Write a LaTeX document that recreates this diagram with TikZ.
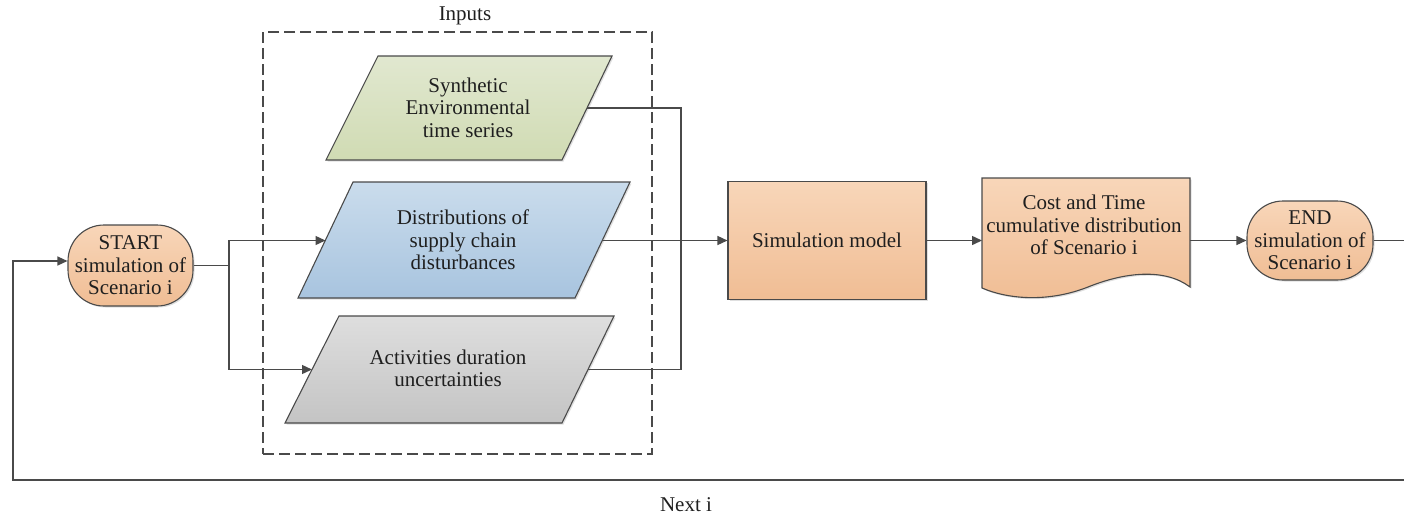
\documentclass[tikz,border=0pt]{standalone}
\usepackage{fontspec}
\setmainfont{Liberation Serif}
\usetikzlibrary{shadows,arrows.meta}
\definecolor{lineC}{HTML}{4A4A4A}
\definecolor{orT}{HTML}{F8D6B9}
\definecolor{orB}{HTML}{F0BD94}
\definecolor{grT}{HTML}{E1E8D0}
\definecolor{grB}{HTML}{D0DBB3}
\definecolor{blT}{HTML}{CADCEC}
\definecolor{blB}{HTML}{A8C4DF}
\definecolor{gyT}{HTML}{DEDEDE}
\definecolor{gyB}{HTML}{C4C4C4}
\begin{document}
\begin{tikzpicture}[x=1pt,y=-1pt,
  txt/.style={font=\fontsize{21}{22.5}\selectfont, align=center, text=black!88},
  ln/.style={draw=lineC, line width=1.4pt},
  arr/.style={ln, -{Triangle[length=10pt,width=9pt]}},
  shp/.style={draw=lineC, line width=1.1pt, drop shadow={shadow xshift=1.5pt,shadow yshift=-1.5pt,opacity=0.25}},
  term/.style={shp, txt, rounded corners=36pt, inner sep=0pt, top color=orT, bottom color=orB},
  procbox/.style={shp, txt, inner sep=0pt, top color=orT, bottom color=orB},
]
\useasboundingbox (0,0) rectangle (1404,517);

% inputs container
\node[draw=lineC, line width=1.4pt, dash pattern=on 11pt off 5pt, minimum width=389pt, minimum height=422pt, inner sep=0pt] (inputs) at (457.5,243) {};
\node[txt] (inputsLbl) at (465,16) {Inputs};

% start / end
\node[term, minimum width=125pt, minimum height=81pt] (start) at (130.5,265.5) {START\\simulation of\\Scenario i};
\node[term, minimum width=126pt, minimum height=79pt] (end) at (1310,240.5) {END\\simulation of\\Scenario i};

% parallelograms
\path[shp, top color=grT, bottom color=grB] (378,56) -- (612,56) -- (562,160) -- (326,160) -- cycle;
\node[txt] (synth) at (468,107.5) {Synthetic\\Environmental\\time series};
\coordinate (synthE) at (587,108);

\path[shp, top color=blT, bottom color=blB] (353,182) -- (630,182) -- (575,298) -- (298,298) -- cycle;
\node[txt] (dist) at (463,240) {Distributions of\\supply chain\\disturbances};
\coordinate (distW) at (325.5,240.5);
\coordinate (distE) at (602.5,240.5);

\path[shp, top color=gyT, bottom color=gyB] (339,316) -- (614,316) -- (562,423) -- (285,423) -- cycle;
\node[txt] (act) at (448,368.5) {Activities duration\\uncertainties};
\coordinate (actW) at (312,369.5);
\coordinate (actE) at (588,369.5);

% simulation model
\node[procbox, minimum width=198pt, minimum height=118pt] (sim) at (827,240.5) {Simulation model};

% document
\path[shp, top color=orT, bottom color=orB] (982,178) -- (1190,178) -- (1190,287)
  .. controls (1165,268) and (1125,272) .. (1088,287)
  .. controls (1050,302) and (1010,300) .. (982,288) -- cycle;
\node[txt] (doc) at (1084,225) {Cost and Time\\cumulative distribution\\of Scenario i};
\coordinate (docW) at (982,240.5);
\coordinate (docE) at (1190,240.5);

% connectors
\coordinate (sp) at (229,265.5);
\coordinate (spT) at (229,240.5);
\coordinate (spB) at (229,369.5);
\draw[ln] (start.east) -- (sp);
\draw[arr] (sp) -- (spT) -- (distW);
\draw[arr] (sp) -- (spB) -- (actW);
\coordinate (jT) at (681,108);
\coordinate (jB) at (681,369.5);
\draw[ln] (synthE) -- (jT) -- (jB) -- (actE);
\draw[arr] (distE) -- (sim.west);
\draw[arr] (sim.east) -- (docW);
\draw[arr] (docE) -- (end.west);
\coordinate (rimT) at (1404,240.5);
\draw[ln] (end.east) -- (rimT);
\coordinate (rimB) at (1404,480);
\coordinate (cBL) at (13,480);
\coordinate (cTL) at (13,261);
\draw[arr] (rimB) -- (cBL) -- (cTL) -- (start.west |- cTL);

\node[txt] (next) at (686,505) {Next i};
\end{tikzpicture}
\end{document}
